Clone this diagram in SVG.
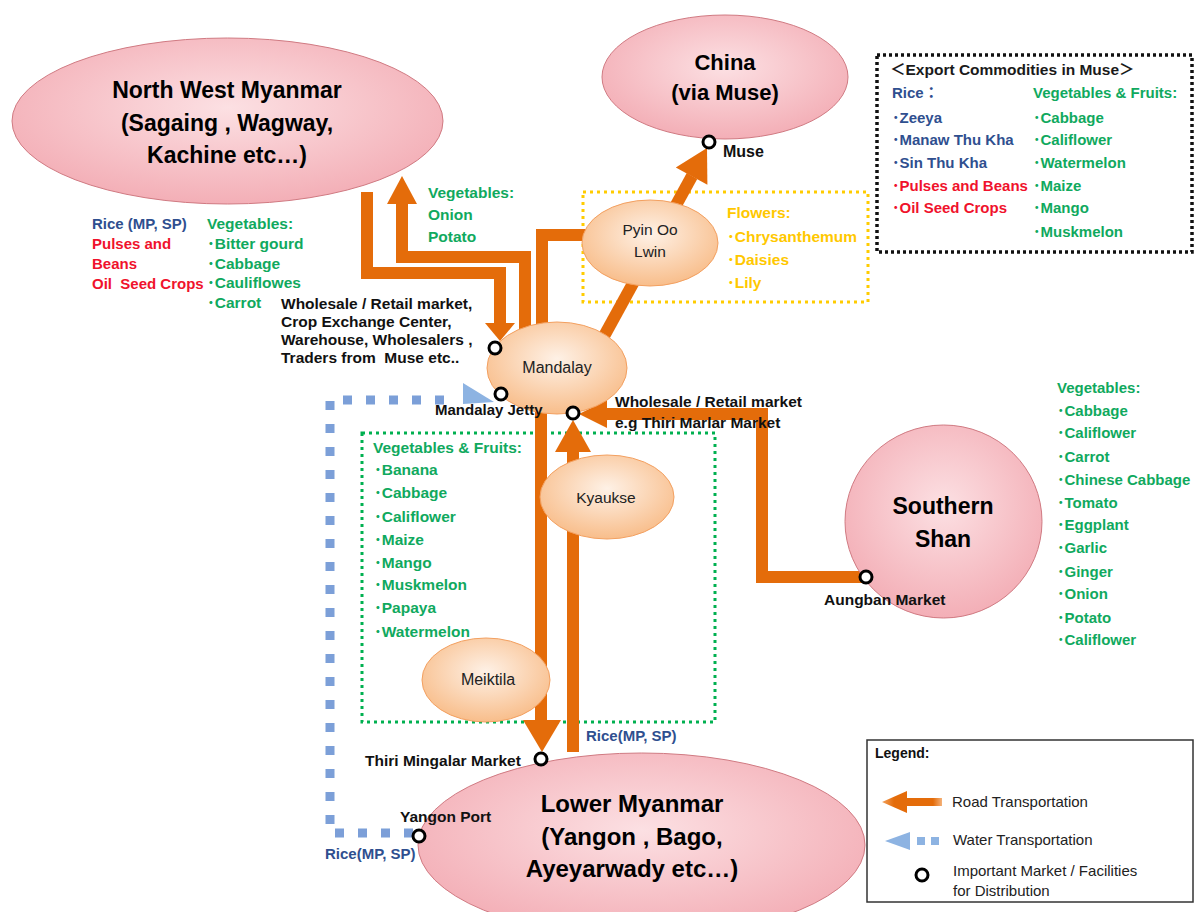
<svg xmlns="http://www.w3.org/2000/svg" width="1195" height="912" viewBox="0 0 1195 912">
  <defs>
    <radialGradient id="gPink" cx="50%" cy="42%" r="60%">
      <stop offset="0" stop-color="#FCE0E3"/>
      <stop offset="1" stop-color="#F3ADB5"/>
    </radialGradient>
    <radialGradient id="gPeach" cx="50%" cy="40%" r="62%">
      <stop offset="0" stop-color="#FEF1E6"/>
      <stop offset="1" stop-color="#F8BC88"/>
    </radialGradient>
    <linearGradient id="gRoadLeg" x1="0" y1="0" x2="1" y2="0">
      <stop offset="0" stop-color="#F2A15C"/>
      <stop offset="0.2" stop-color="#E46C0A"/>
      <stop offset="0.85" stop-color="#E46C0A"/>
      <stop offset="1" stop-color="#F4B27A"/>
    </linearGradient>
    <filter id="soft" x="-5%" y="-5%" width="110%" height="110%">
      <feGaussianBlur stdDeviation="0.7"/>
    </filter>
  </defs>
  <style>
    text { font-family: "Liberation Sans", "Noto Sans CJK JP", sans-serif; }
    .big { font-weight: bold; font-size: 23px; fill: #000; text-anchor: middle; }
    .nd { font-size: 15.5px; fill: #222; text-anchor: middle; }
    .lb { font-weight: bold; font-size: 15.5px; fill: #111; }
    .sm { font-weight: bold; font-size: 15px; }
    .grn { fill: #10A95E; }
    .red { fill: #F0122C; }
    .blu { fill: #2F4F8F; }
    .yel { fill: #FFC800; }
    .leg { font-size: 15px; fill: #222; }
    .pink { fill: url(#gPink); stroke: #D07A82; stroke-width: 1; }
    .peach { fill: url(#gPeach); stroke: #F3A060; stroke-width: 1; }
    .road { fill: none; stroke: #E46C0A; stroke-width: 12; stroke-linejoin: miter; }
    .head { fill: #E46C0A; }
    .water { fill: none; stroke: #7B9FD8; stroke-width: 9; stroke-dasharray: 9 14; }
    .mk { fill: #fff; stroke: #000; stroke-width: 3; }
    .pre { white-space: pre; }
  </style>

  <!-- commodity boxes -->
  <g id="boxes">
    <rect x="583" y="192" width="285" height="110" fill="none" stroke="#FFCC00" stroke-width="3" stroke-dasharray="3 4"/>
    <rect x="362" y="433" width="353" height="289" fill="none" stroke="#00B050" stroke-width="3" stroke-dasharray="3 4"/>
    <rect x="877" y="55" width="315" height="197" fill="none" stroke="#111" stroke-width="3.5" stroke-dasharray="3 3"/>
  </g>

  <!-- transport routes -->
  <g id="connectors">
    <!-- water: Yangon Port to Mandalay Jetty -->
    <g filter="url(#soft)">
      <path class="water" d="M413,833 H330 V400 H458"/>
      <polygon points="463,383 494,402 463,404" fill="#8DB3E2"/>
    </g>
    <!-- North West to Mandalay -->
    <path class="road" d="M367,192 V273 H500 V325"/>
    <polygon class="head" points="485,323 515,323 500,341"/>
    <!-- Mandalay to North West -->
    <path class="road" d="M525,330 V257 H402 V202"/>
    <polygon class="head" points="387,204 417,204 402,176"/>
    <!-- Mandalay to Pyin Oo Lwin -->
    <path class="road" d="M542,330 V235 H595"/>
    <!-- Mandalay via Pyin Oo Lwin to Muse -->
    <path class="road" d="M603,338 L692,176"/>
    <polygon class="head" points="707,148 707.4,184.7 675.8,167.5"/>
    <!-- Southern Shan to Mandalay -->
    <path class="road" d="M866,577 H762 V414 H605"/>
    <polygon class="head" points="607,400 607,428 579,414"/>
    <!-- Mandalay to Lower Myanmar -->
    <path class="road" d="M541,405 V722"/>
    <polygon class="head" points="523,720 561,720 542,752"/>
    <!-- Lower Myanmar to Mandalay -->
    <path class="road" d="M573,752 V450"/>
    <polygon class="head" points="555,452 591,452 573,420"/>
  </g>

  <!-- regions -->
  <g id="nw-myanmar">
    <ellipse class="pink" cx="227.5" cy="121" rx="215.5" ry="83"/>
    <text class="big" x="227" y="98">North West Myanmar</text>
    <text class="big" x="227" y="131">(Sagaing , Wagway,</text>
    <text class="big" x="227" y="163">Kachine etc…)</text>
  </g>
  <g id="china">
    <ellipse class="pink" cx="725" cy="77" rx="123" ry="62"/>
    <text class="big" x="725" y="70" style="font-size:22px">China</text>
    <text class="big" x="725" y="100" style="font-size:22px">(via Muse)</text>
  </g>
  <g id="southern-shan">
    <ellipse class="pink" cx="943.5" cy="521.5" rx="98.5" ry="96.5"/>
    <text class="big" x="943" y="514">Southern</text>
    <text class="big" x="943" y="547">Shan</text>
  </g>
  <g id="lower-myanmar">
    <ellipse class="pink" cx="641.5" cy="845" rx="223.5" ry="92"/>
    <text class="big" x="632" y="812" style="font-size:24px">Lower Myanmar</text>
    <text class="big" x="632" y="845" style="font-size:24px">(Yangon , Bago,</text>
    <text class="big" x="632" y="877" style="font-size:24px">Ayeyarwady etc…)</text>
  </g>

  <!-- towns -->
  <g id="mandalay">
    <ellipse class="peach" cx="557" cy="368" rx="70" ry="46"/>
    <text class="nd" x="557" y="373" style="font-size:16px">Mandalay</text>
  </g>
  <g id="pyin-oo-lwin">
    <ellipse class="peach" cx="650" cy="243" rx="68" ry="43"/>
    <text class="nd" x="650" y="235">Pyin Oo</text>
    <text class="nd" x="650" y="257">Lwin</text>
  </g>
  <g id="kyaukse">
    <ellipse class="peach" cx="607" cy="497" rx="67" ry="42"/>
    <text class="nd" x="606" y="503">Kyaukse</text>
  </g>
  <g id="meiktila">
    <ellipse class="peach" cx="486" cy="680" rx="64" ry="42"/>
    <text class="nd" x="488" y="685" style="font-size:16px">Meiktila</text>
  </g>

  <!-- markets and facilities -->
  <g id="markets">
    <circle class="mk" cx="495" cy="348" r="6"/>
    <circle class="mk" cx="501" cy="394" r="6"/>
    <circle class="mk" cx="573" cy="413" r="6"/>
    <circle class="mk" cx="709" cy="142" r="6"/>
    <circle class="mk" cx="866" cy="577" r="6"/>
    <circle class="mk" cx="541" cy="759" r="6"/>
    <circle class="mk" cx="419" cy="836" r="6"/>
  </g>

  <!-- place labels -->
  <g id="place-labels">
    <text class="lb" x="723" y="157" style="font-size:16px">Muse</text>
    <text class="lb" x="281" y="309">Wholesale / Retail market,</text>
    <text class="lb" x="281" y="327">Crop Exchange Center,</text>
    <text class="lb" x="281" y="345">Warehouse, Wholesalers ,</text>
    <text class="lb pre" x="281" y="363">Traders from  Muse etc..</text>
    <text class="lb" x="435" y="415" style="font-size:15px">Mandalay Jetty</text>
    <text class="lb" x="615" y="407">Wholesale / Retail market</text>
    <text class="lb" x="615" y="428">e.g Thiri Marlar Market</text>
    <text class="lb" x="824" y="605">Aungban Market</text>
    <text class="lb" x="365" y="766">Thiri Mingalar Market</text>
    <text class="lb" x="400" y="822">Yangon Port</text>
  </g>

  <!-- commodity labels -->
  <g id="nw-commodities">
    <text class="sm blu" x="92" y="229">Rice (MP, SP)</text>
    <text class="sm red" x="92" y="249">Pulses and</text>
    <text class="sm red" x="92" y="269">Beans</text>
    <text class="sm red pre" x="92" y="289">Oil  Seed Crops</text>
    <text class="lb grn" x="207" y="229">Vegetables:</text>
    <text class="lb grn" x="207" y="249">･Bitter gourd</text>
    <text class="lb grn" x="207" y="269">･Cabbage</text>
    <text class="lb grn" x="207" y="288">･Cauliflowes</text>
    <text class="lb grn" x="207" y="308">･Carrot</text>
  </g>
  <g id="to-nw-commodities">
    <text class="lb grn" x="428" y="198">Vegetables:</text>
    <text class="lb grn" x="428" y="220">Onion</text>
    <text class="lb grn" x="428" y="242">Potato</text>
  </g>
  <g id="flowers">
    <text class="lb yel" x="727" y="218">Flowers:</text>
    <text class="lb yel" x="727" y="242">･Chrysanthemum</text>
    <text class="lb yel" x="727" y="265">･Daisies</text>
    <text class="lb yel" x="727" y="288">･Lily</text>
  </g>
  <g id="export-commodities">
    <text class="lb" x="890" y="75" style="fill:#1a1a1a">＜Export Commodities in Muse＞</text>
    <text class="sm blu" x="892" y="98">Rice：</text>
    <text class="sm blu" x="892" y="123">･Zeeya</text>
    <text class="sm blu" x="892" y="145">･Manaw Thu Kha</text>
    <text class="sm blu" x="892" y="168">･Sin Thu Kha</text>
    <text class="sm red" x="892" y="191">･Pulses and Beans</text>
    <text class="sm red" x="892" y="213">･Oil Seed Crops</text>
    <text class="sm grn" x="1033" y="98">Vegetables &amp; Fruits:</text>
    <text class="sm grn" x="1033" y="123">･Cabbage</text>
    <text class="sm grn" x="1033" y="145">･Califlower</text>
    <text class="sm grn" x="1033" y="168">･Watermelon</text>
    <text class="sm grn" x="1033" y="191">･Maize</text>
    <text class="sm grn" x="1033" y="213">･Mango</text>
    <text class="sm grn" x="1033" y="237">･Muskmelon</text>
  </g>
  <g id="central-commodities">
    <text class="lb grn" x="373" y="453">Vegetables &amp; Fruits:</text>
    <text class="lb grn" x="374" y="475">･Banana</text>
    <text class="lb grn" x="374" y="498">･Cabbage</text>
    <text class="lb grn" x="374" y="522">･Califlower</text>
    <text class="lb grn" x="374" y="545">･Maize</text>
    <text class="lb grn" x="374" y="568">･Mango</text>
    <text class="lb grn" x="374" y="590">･Muskmelon</text>
    <text class="lb grn" x="374" y="613">･Papaya</text>
    <text class="lb grn" x="374" y="637">･Watermelon</text>
  </g>
  <g id="shan-commodities">
    <text class="sm grn" x="1057" y="393">Vegetables:</text>
    <text class="sm grn" x="1057" y="416">･Cabbage</text>
    <text class="sm grn" x="1057" y="438">･Califlower</text>
    <text class="sm grn" x="1057" y="462">･Carrot</text>
    <text class="sm grn" x="1057" y="485">･Chinese Cabbage</text>
    <text class="sm grn" x="1057" y="508">･Tomato</text>
    <text class="sm grn" x="1057" y="530">･Eggplant</text>
    <text class="sm grn" x="1057" y="553">･Garlic</text>
    <text class="sm grn" x="1057" y="577">･Ginger</text>
    <text class="sm grn" x="1057" y="599">･Onion</text>
    <text class="sm grn" x="1057" y="623">･Potato</text>
    <text class="sm grn" x="1057" y="645">･Califlower</text>
  </g>
  <g id="rice-flows">
    <text class="sm blu" x="586" y="741">Rice(MP, SP)</text>
    <text class="sm blu" x="325" y="859">Rice(MP, SP)</text>
  </g>

  <!-- legend -->
  <g id="legend">
    <rect x="867" y="740" width="326" height="162" fill="#fff" stroke="#333" stroke-width="1.5"/>
    <text x="875" y="758" style="font-weight:bold;font-size:14px;fill:#111">Legend:</text>
    <polygon points="882,802 907,791 907,798 942,798 942,806 907,806 907,813" fill="url(#gRoadLeg)"/>
    <text class="leg" x="952" y="807">Road Transportation</text>
    <g filter="url(#soft)">
      <polygon points="885,841 910,832 910,850" fill="#8DB3E2"/>
      <rect x="917" y="837" width="8" height="8" fill="#8DB3E2"/>
      <rect x="931" y="837" width="8" height="8" fill="#8DB3E2"/>
    </g>
    <text class="leg" x="953" y="845">Water Transportation</text>
    <circle class="mk" cx="922" cy="875" r="6"/>
    <text class="leg" x="953" y="876">Important Market / Facilities</text>
    <text class="leg" x="953" y="896">for Distribution</text>
  </g>
</svg>
